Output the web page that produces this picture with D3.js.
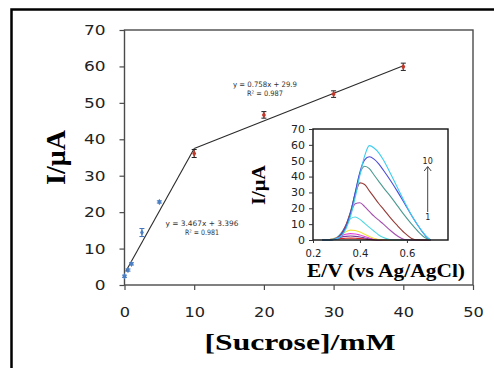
<!DOCTYPE html>
<html>
<head>
<meta charset="utf-8">
<script src="https://cdn.jsdelivr.net/npm/d3@7"></script>
<style>
  body { margin: 0; background: #fff; }
  svg { display: block; }
</style>
</head>
<body>
<div id="chart"></div>
<script>
// main calibration data
var conc = [0, 0.5, 1, 2.5, 5, 10, 20, 30, 40],
    current = [2.4, 4.1, 5.8, 14.4, 22.8, 36.1, 46.7, 52.4, 59.9],
    errs = [0.3, 0.3, 0.3, 1.1, 0.3, 1.1, 0.9, 0.9, 1.0],
    // which points are blue (low range) vs red (high range)
    groups = ['low', 'low', 'low', 'low', 'low', 'high', 'high', 'high', 'high'];

var trendLow = [[0.2, 3.8], [10, 37.5]],
    trendHigh = [[10, 37.5], [40, 60.2]];

var eqLow = ['y = 3.467x + 3.396', 'R\u00b2 = 0.981'],
    eqHigh = ['y = 0.758x + 29.9', 'R\u00b2 = 0.987'];

var xTicks = [0, 10, 20, 30, 40, 50],
    yTicks = [0, 10, 20, 30, 40, 50, 60, 70];

// inset voltammograms
var potential = [0.24, 0.27, 0.30, 0.32, 0.34, 0.36, 0.38, 0.40, 0.42, 0.44, 0.46, 0.48, 0.50, 0.53, 0.56, 0.59, 0.62, 0.65, 0.68, 0.70];
var curve1 = [0, 0.2, 0.6, 0.9, 1.1, 1.2, 1.1, 0.9, 0.6, 0.3, 0.1, 0, 0, 0, 0, 0, 0, 0, 0, 0],
    curve2 = [0, 0.3, 1.0, 1.8, 2.3, 2.5, 2.3, 1.9, 1.3, 0.7, 0.3, 0, 0, 0, 0, 0, 0, 0, 0, 0],
    curve3 = [0, 0.3, 1.3, 2.6, 3.6, 4.0, 3.8, 3.1, 2.2, 1.3, 0.6, 0.2, 0, 0, 0, 0, 0, 0, 0, 0],
    curve4 = [0, 0.3, 1.5, 3.3, 5.2, 6.2, 6.0, 5.0, 3.6, 2.2, 1.0, 0.3, 0, 0, 0, 0, 0, 0, 0, 0],
    curve5 = [0, 0.2, 1.5, 4.5, 9, 13.5, 14.5, 13, 10.5, 8, 5.5, 3.2, 1.5, 0.2, 0, 0, 0, 0, 0, 0],
    curve6 = [0, 0.1, 1.2, 4, 9.5, 17, 22.8, 23.5, 21, 18, 15, 12.5, 10, 6, 2.5, 0.3, 0, 0, 0, 0],
    curve7 = [0, 0.1, 1, 3.5, 9, 18, 29, 36, 35, 31, 27, 23, 19.5, 14, 9, 4.5, 1, 0, 0, 0],
    curve8 = [0, 0, 0.8, 3, 8, 17, 30, 42, 46.5, 45, 41, 37, 33, 27.5, 21.5, 15.5, 10, 5, 1.2, 0],
    curve9 = [0, 0, 0.8, 3, 8, 17, 30, 43, 50.5, 52.5, 51, 48, 44, 37.5, 30.5, 23, 15.5, 8.5, 2.5, 0],
    curve10 = [0, 0, 0.8, 2.5, 7, 15, 27, 41, 53, 59.5, 58, 55, 50.5, 42, 33, 24, 15.5, 8.5, 2.8, 0];
var curves = [curve1, curve2, curve3, curve4, curve5, curve6, curve7, curve8, curve9, curve10];
var curveColors = ['#d42a2a', '#7a3b9a', '#e040d8', '#f2e23a', '#4fd8e0', '#a550b0', '#973a36', '#4c9a90', '#4a4ad8', '#3ccdf0'];

var insetXTicks = [0.2, 0.4, 0.6],
    insetYTicks = [0, 10, 20, 30, 40, 50, 60, 70];

var W = 494, H = 368;
var svg = d3.select('#chart').append('svg').attr('width', W).attr('height', H);

// outer frame (cropped on right/bottom)
svg.append('rect')
    .attr('x', 11.5).attr('y', 9.5).attr('width', 600).attr('height', 500)
    .style('fill', 'none').style('stroke', '#000').style('stroke-width', 2.5);

var x = d3.scaleLinear().domain([0, 50]).range([124.5, 473]);
var y = d3.scaleLinear().domain([0, 70]).range([285, 30]);

var axisColor = '#4a4a4a';

// plot box
svg.append('rect')
    .attr('x', x(0)).attr('y', y(70))
    .attr('width', x(50) - x(0)).attr('height', y(0) - y(70))
    .style('fill', 'none').style('stroke', axisColor).style('stroke-width', 1.4);

// y axis
var yAxis = svg.append('g')
    .attr('transform', 'translate(' + x(0) + ',0)')
    .call(d3.axisLeft(y).tickValues(yTicks).tickSize(5).tickPadding(14));
yAxis.select('.domain').remove();
yAxis.selectAll('line').style('stroke', axisColor).style('stroke-width', 1.2);
yAxis.selectAll('text')
    .style('font-family', 'DejaVu Sans').style('font-size', '14px').style('fill', '#222')
    .attr('textLength', function(d) { return String(d).length * 10.8; })
    .attr('lengthAdjust', 'spacingAndGlyphs');

// x axis
var xAxis = svg.append('g')
    .attr('transform', 'translate(0,' + y(0) + ')')
    .call(d3.axisBottom(x).tickValues(xTicks).tickSize(5).tickPadding(17));
xAxis.select('.domain').remove();
xAxis.selectAll('line').style('stroke', axisColor).style('stroke-width', 1.2);
xAxis.selectAll('text')
    .style('font-family', 'DejaVu Sans').style('font-size', '14px').style('fill', '#222')
    .attr('textLength', function(d) { return String(d).length * 10.3; })
    .attr('lengthAdjust', 'spacingAndGlyphs');

// trend lines
var line = d3.line().x(function(d) { return x(d[0]); }).y(function(d) { return y(d[1]); });
[trendLow, trendHigh].forEach(function(t) {
  svg.append('path').attr('d', line(t))
      .style('fill', 'none').style('stroke', '#2a2a2a').style('stroke-width', 1.1);
});

// error bars and markers
var pts = conc.map(function(c, i) { return {x: c, y: current[i], e: errs[i], g: groups[i]}; });
var pg = svg.append('g');
pts.forEach(function(p) {
  var col = p.g === 'low' ? '#3f72b8' : '#222';
  var cx = x(p.x), y1 = y(p.y + p.e), y2 = y(p.y - p.e);
  pg.append('line').attr('x1', cx).attr('x2', cx).attr('y1', y1).attr('y2', y2)
      .style('stroke', col).style('stroke-width', 1);
  [y1, y2].forEach(function(yy) {
    pg.append('line').attr('x1', cx - 2.5).attr('x2', cx + 2.5).attr('y1', yy).attr('y2', yy)
        .style('stroke', col).style('stroke-width', 1);
  });
  pg.append('path')
      .attr('d', d3.symbol().type(d3.symbolDiamond).size(p.g === 'low' ? 12 : 14)())
      .attr('transform', 'translate(' + cx + ',' + y(p.y) + ')')
      .style('fill', p.g === 'low' ? '#4a7fc4' : '#c0392b');
});

// equations
function eq(lines, cx, cy, widths) {
  lines.forEach(function(t, i) {
    svg.append('text').text(t)
        .attr('x', cx).attr('y', cy + i * 9)
        .attr('text-anchor', 'middle')
        .attr('textLength', widths[i]).attr('lengthAdjust', 'spacingAndGlyphs')
        .style('font-family', 'DejaVu Sans').style('font-size', '7.5px').style('fill', '#333');
  });
}
eq(eqHigh, 265, 86.5, [64, 36]);
eq(eqLow, 202, 226, [73, 34]);

// axis titles
svg.append('text').text('[Sucrose]/mM')
    .attr('x', 300).attr('y', 350).attr('text-anchor', 'middle')
    .attr('textLength', 191).attr('lengthAdjust', 'spacingAndGlyphs')
    .style('font-family', 'Liberation Serif').style('font-weight', 'bold').style('font-size', '24px');

svg.append('text').text('I/\u03bcA')
    .attr('transform', 'translate(65,157.5) rotate(-90)')
    .attr('text-anchor', 'middle')
    .attr('textLength', 55).attr('lengthAdjust', 'spacingAndGlyphs')
    .style('font-family', 'Liberation Serif').style('font-weight', 'bold').style('font-size', '27px');

// ---- inset ----
var ix = d3.scaleLinear().domain([0.2, 0.775]).range([313, 448]);
var iy = d3.scaleLinear().domain([0, 70]).range([240, 129]);

var inset = svg.append('g');
inset.append('rect')
    .attr('x', ix(0.2)).attr('y', iy(70))
    .attr('width', ix(0.775) - ix(0.2)).attr('height', iy(0) - iy(70))
    .style('fill', '#fff');

var iline = d3.line()
    .x(function(d, i) { return ix(potential[i]); })
    .y(function(d) { return iy(d); })
    .curve(d3.curveMonotoneX);

curves.forEach(function(c, i) {
  inset.append('path').attr('d', iline(c))
      .style('fill', 'none').style('stroke', curveColors[i]).style('stroke-width', 1.1);
});

inset.append('rect')
    .attr('x', ix(0.2)).attr('y', iy(70))
    .attr('width', ix(0.775) - ix(0.2)).attr('height', iy(0) - iy(70))
    .style('fill', 'none').style('stroke', '#111').style('stroke-width', 1.4);

var iyAxis = inset.append('g')
    .attr('transform', 'translate(' + ix(0.2) + ',0)')
    .call(d3.axisLeft(iy).tickValues(insetYTicks).tickSize(4).tickPadding(4));
iyAxis.select('.domain').remove();
iyAxis.selectAll('line').style('stroke', '#333');
iyAxis.selectAll('text')
    .style('font-family', 'DejaVu Sans').style('font-size', '10.5px').style('fill', '#222')
    .attr('textLength', function(d) { return String(d).length * 7; })
    .attr('lengthAdjust', 'spacingAndGlyphs');

var ixAxis = inset.append('g')
    .attr('transform', 'translate(0,' + iy(0) + ')')
    .call(d3.axisBottom(ix).tickValues(insetXTicks).tickFormat(d3.format('.1f')).tickSize(3).tickPadding(7));
ixAxis.select('.domain').remove();
ixAxis.selectAll('line').style('stroke', '#333');
ixAxis.selectAll('text')
    .style('font-family', 'DejaVu Sans').style('font-size', '10.5px').style('fill', '#222')
    .attr('textLength', 16).attr('lengthAdjust', 'spacingAndGlyphs');

inset.append('text').text('E/V (vs Ag/AgCl)')
    .attr('x', 386).attr('y', 276.5).attr('text-anchor', 'middle')
    .attr('textLength', 158).attr('lengthAdjust', 'spacingAndGlyphs')
    .style('font-family', 'Liberation Serif').style('font-weight', 'bold').style('font-size', '18.5px');

inset.append('text').text('I/\u03bcA')
    .attr('transform', 'translate(265,185) rotate(-90)')
    .attr('text-anchor', 'middle')
    .attr('textLength', 40).attr('lengthAdjust', 'spacingAndGlyphs')
    .style('font-family', 'Liberation Serif').style('font-weight', 'bold').style('font-size', '19px');

// arrow 1 -> 10
var ax = 427.7;
inset.append('line').attr('x1', ax).attr('x2', ax).attr('y1', 212).attr('y2', 167)
    .style('stroke', '#444').style('stroke-width', 1);
inset.append('path')
    .attr('d', 'M' + (ax - 3.5) + ',' + 171 + 'L' + ax + ',' + 166.5 + 'L' + (ax + 3.5) + ',' + 171)
    .style('fill', 'none').style('stroke', '#444').style('stroke-width', 1);
inset.append('text').text('10').attr('x', ax).attr('y', 163.5).attr('text-anchor', 'middle')
    .style('font-family', 'DejaVu Sans').style('font-size', '8px').style('fill', '#222');
inset.append('text').text('1').attr('x', ax).attr('y', 220).attr('text-anchor', 'middle')
    .style('font-family', 'DejaVu Sans').style('font-size', '8px').style('fill', '#222');
</script>
</body>
</html>
